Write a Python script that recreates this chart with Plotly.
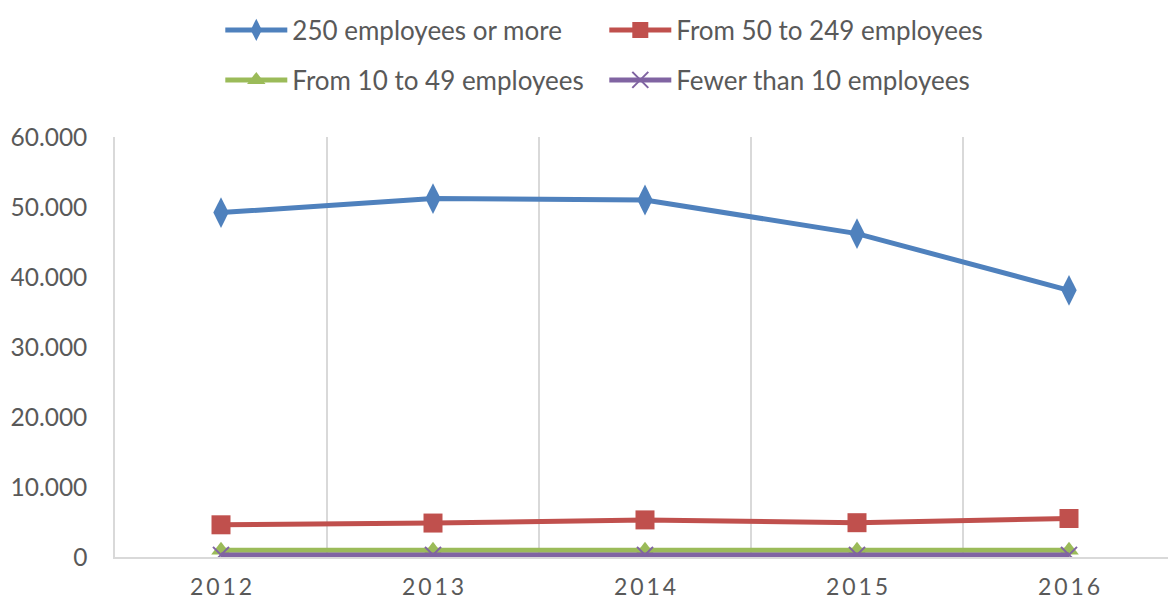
import plotly.graph_objects as go

years = ["2012", "2013", "2014", "2015", "2016"]
large = [49200, 51200, 51000, 46200, 38100]
medium = [4600, 4850, 5300, 4900, 5500]
small = [950, 950, 950, 950, 950]
micro = [300, 300, 300, 300, 300]

names = ["250 employees or more", "From 50 to 249 employees",
         "From 10 to 49 employees", "Fewer than 10 employees"]
series = [large, medium, small, micro]
colors = ["#4F81BD", "#C0504D", "#9BBB59", "#8064A2"]
symbols = ["diamond-tall", "square", "triangle-up", "x-thin"]
sizes = [22, 19, 17, 16]
legend_ids = ["legend", "legend", "legend2", "legend2"]

xpos = list(range(len(years)))
ticktext = ["\u2009".join(y) for y in years]

fig = go.Figure()
for name, vals, c, s, sz, lg in zip(names, series, colors, symbols, sizes, legend_ids):
    marker = dict(symbol=s, size=sz, color=c)
    if s == "x-thin":
        marker["line"] = dict(color=c, width=2)
    fig.add_trace(go.Scatter(
        x=xpos, y=vals, name=name, mode="lines+markers",
        line=dict(color=c, width=5), marker=marker, legend=lg,
    ))

font_family = "Lato, 'Open Sans', sans-serif"
legend_common = dict(
    orientation="h", x=0.1, xanchor="left", yanchor="middle",
    entrywidth=307, entrywidthmode="pixels",
    font=dict(size=26, color="#595959"), itemwidth=62,
    bgcolor="rgba(0,0,0,0)",
)
fig.update_layout(
    width=1168, height=601,
    margin=dict(l=115, r=0, t=137, b=44, autoexpand=False),
    paper_bgcolor="white", plot_bgcolor="white",
    separators=",.",
    font=dict(family=font_family, color="#595959", size=22),
    showlegend=True,
    legend=dict(y=1.2548, **legend_common),
    legend2=dict(y=1.1357, **legend_common),
    xaxis=dict(
        range=[-0.5, 4.467], tickvals=xpos, ticktext=ticktext,
        showgrid=False, zeroline=False, showline=True,
        linecolor="#d9d9d9", linewidth=1.5,
        ticks="", tickfont=dict(size=23, color="#595959"),
        ticklabelstandoff=9,
        minor=dict(tickvals=[0.5, 1.5, 2.5, 3.5], showgrid=True,
                   gridcolor="#d9d9d9", gridwidth=1.5, ticks=""),
    ),
    yaxis=dict(
        range=[0, 60000], tickvals=[0, 10000, 20000, 30000, 40000, 50000, 60000],
        tickformat=",d", showgrid=False, zeroline=False, showline=True,
        linecolor="#d9d9d9", linewidth=1.5, ticks="",
        tickfont=dict(size=24.5, color="#595959"), ticklabelstandoff=21,
    ),
)

fig.write_html("out.html", config={"displayModeBar": False},
               post_script="document.body.style.margin='0';")
